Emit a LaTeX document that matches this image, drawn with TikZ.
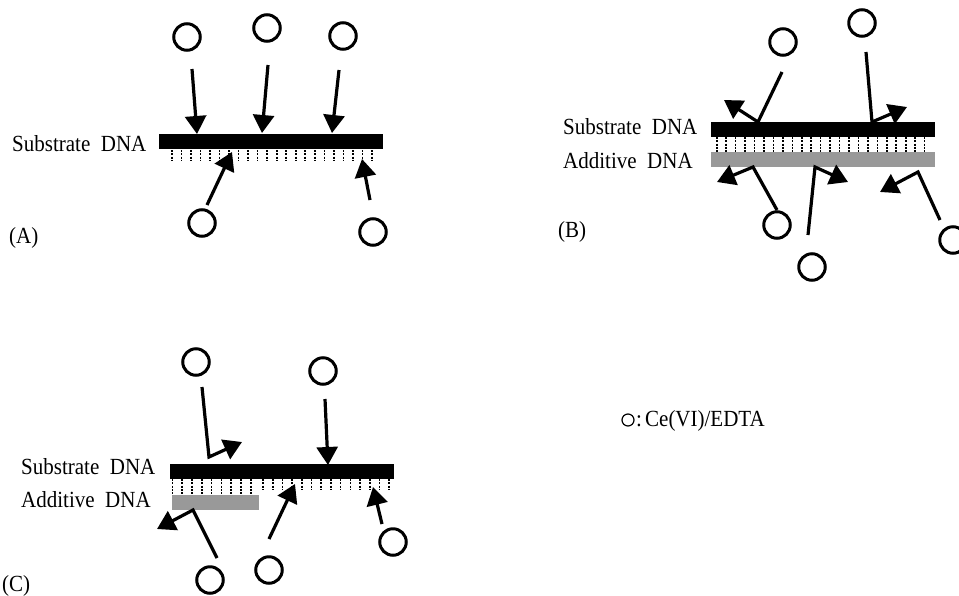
\documentclass[tikz,border=0pt]{standalone}
\usepackage{fontspec}
\setmainfont{Liberation Serif}
\usetikzlibrary{arrows.meta}
\definecolor{addgray}{RGB}{153,153,153}
\newcommand{\tallt}[1]{\scalebox{1}[1.1]{#1}}
\begin{document}
\begin{tikzpicture}[x=1pt,y=-1pt,
  mol/.style={circle,draw,line width=3pt,minimum size=26.5pt,inner sep=0pt},
  hit/.style={line width=3.2pt,line join=miter,-{Triangle[length=18pt,width=21pt]}},
  tickline/.style={line width=1.6pt,dash pattern=on 2pt off 1.3pt},
  lab/.style={font=\fontsize{21}{24}\selectfont,inner sep=0pt,anchor=base west},
  sbar/.style={fill=black},
  abar/.style={fill=addgray},
]
\useasboundingbox (0,0) rectangle (959,595);

% ---------------- Panel A ----------------
\node[lab] (labA) at (12,151) {\tallt{Substrate\hspace{0.5em}DNA}};
\node[lab] (pA) at (9,243) {\tallt{(A)}};
\fill[sbar] (159,134) rectangle (383,149);
\foreach \k in {0,...,21}{\draw[tickline] ({172+9.52*\k},150) -- ({172+9.52*\k},161);}
\node[mol] (a1) at (187,37) {};
\node[mol] (a2) at (267,28) {};
\node[mol] (a3) at (343,36) {};
\node[mol] (a4) at (202,223) {};
\node[mol] (a5) at (373,232) {};
\coordinate (sa1) at (192,69);  \coordinate (ta1) at (197,134);
\coordinate (sa2) at (268,65);  \coordinate (ta2) at (262,133);
\coordinate (sa3) at (339,70);  \coordinate (ta3) at (332,133);
\coordinate (sa4) at (207,205); \coordinate (ta4) at (232,152);
\coordinate (sa5) at (370,200); \coordinate (ta5) at (362,159);
\draw[hit] (sa1) -- (ta1);
\draw[hit] (sa2) -- (ta2);
\draw[hit] (sa3) -- (ta3);
\draw[hit] (sa4) -- (ta4);
\draw[hit] (sa5) -- (ta5);

% ---------------- Panel B ----------------
\node[lab] (labB1) at (563,134) {\tallt{Substrate\hspace{0.5em}DNA}};
\node[lab] (labB2) at (563,168) {\tallt{Additive\hspace{0.5em}DNA}};
\node[lab] (pB) at (558,237) {\tallt{(B)}};
\fill[sbar] (711,122) rectangle (935,137);
\fill[abar] (711,152) rectangle (935,167);
\foreach \k in {0,...,22}{\draw[tickline] ({716.7+9.45*\k},137) -- ({716.7+9.45*\k},152);}
\node[mol] (b1) at (783,42) {};
\node[mol] (b2) at (862,23) {};
\node[mol] (b3) at (777,225) {};
\node[mol] (b4) at (812,267) {};
\node[mol] (b5) at (953,240) {};
\coordinate (sb1) at (782,72);  \coordinate (vb1) at (758,122); \coordinate (tb1) at (724,100);
\coordinate (sb2) at (866,52);  \coordinate (vb2) at (872,122); \coordinate (tb2) at (907,107);
\coordinate (sb3) at (777,210); \coordinate (vb3) at (753,167); \coordinate (tb3) at (717,182);
\coordinate (sb4) at (808,235); \coordinate (vb4) at (815,167); \coordinate (tb4) at (848,182);
\coordinate (sb5) at (940,220); \coordinate (vb5) at (918,172); \coordinate (tb5) at (880,192);
\draw[hit] (sb1) -- (vb1) -- (tb1);
\draw[hit] (sb2) -- (vb2) -- (tb2);
\draw[hit] (sb3) -- (vb3) -- (tb3);
\draw[hit] (sb4) -- (vb4) -- (tb4);
\draw[hit] (sb5) -- (vb5) -- (tb5);

% ---------------- Panel C ----------------
\node[lab] (labC1) at (21,474) {\tallt{Substrate\hspace{0.5em}DNA}};
\node[lab] (labC2) at (21,507) {\tallt{Additive\hspace{0.5em}DNA}};
\node[lab] (pC) at (2,591) {\tallt{(C)}};
\fill[sbar] (170,464) rectangle (394,479);
\fill[abar] (172,495) rectangle (259,510);
\foreach \k in {0,...,8}{\draw[tickline] ({172.3+9.8*\k},479) -- ({172.3+9.8*\k},495);}
\foreach \k in {0,...,13}{\draw[tickline] ({263+9.7*\k},479) -- ({263+9.7*\k},490);}
\node[mol] (c1) at (196,362) {};
\node[mol] (c2) at (323,371) {};
\node[mol] (c3) at (393,542) {};
\node[mol] (c4) at (269,570) {};
\node[mol] (c5) at (210,580) {};
\coordinate (sc1) at (202,387); \coordinate (vc1) at (209,457); \coordinate (tc1) at (242,442);
\coordinate (sc2) at (325,399); \coordinate (tc2) at (328,465);
\coordinate (sc3) at (269,539); \coordinate (tc3) at (295,484);
\coordinate (sc4) at (382,524); \coordinate (tc4) at (373,487);
\coordinate (sc5) at (217,558); \coordinate (vc5) at (193,510); \coordinate (tc5) at (157,529);
\draw[hit] (sc1) -- (vc1) -- (tc1);
\draw[hit] (sc2) -- (tc2);
\draw[hit] (sc3) -- (tc3);
\draw[hit] (sc4) -- (tc4);
\draw[hit] (sc5) -- (vc5) -- (tc5);

% ---------------- Legend ----------------
\node[circle,draw,line width=1.2pt,minimum size=12pt,inner sep=0pt] (leg) at (628,420) {};
\node[lab] (legtxt) at (636,426) {\tallt{:\hspace{0.15em}Ce(VI)/EDTA}};
\end{tikzpicture}
\end{document}
